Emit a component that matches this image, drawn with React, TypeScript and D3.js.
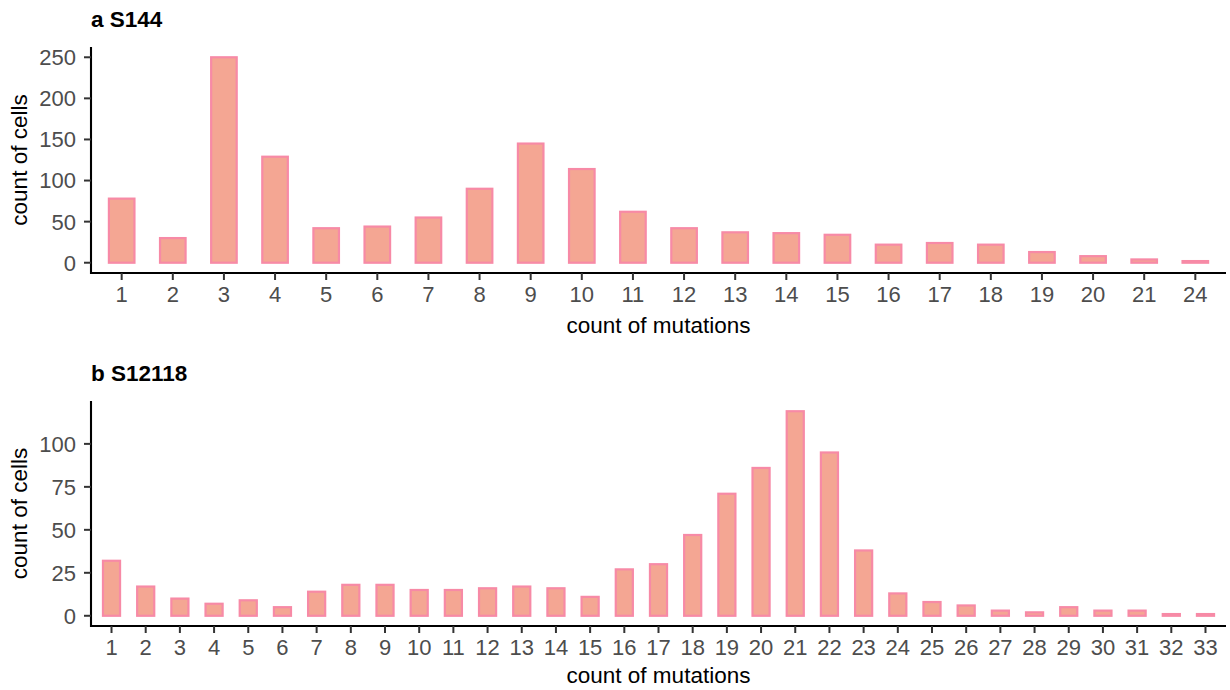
import React from "react";
import * as d3 from "d3";

// Panel a: S144
const catsA: string[] = ["1","2","3","4","5","6","7","8","9","10","11","12","13","14","15","16","17","18","19","20","21","24"];
const valsA: number[] = [78,30,250,129,42,44,55,90,145,114,62,42,37,36,34,22,24,22,13,8,4,2];
const ticksA: number[] = [0,50,100,150,200,250];

// Panel b: S12118
const catsB: string[] = ["1","2","3","4","5","6","7","8","9","10","11","12","13","14","15","16","17","18","19","20","21","22","23","24","25","26","27","28","29","30","31","32","33"];
const valsB: number[] = [32,17,10,7,9,5,14,18,18,15,15,16,17,16,11,27,30,47,71,86,119,95,38,13,8,6,3,2,5,3,3,1,1];
const ticksB: number[] = [0,25,50,75,100];

const titleA = "a S144";
const titleB = "b S12118";
const xTitle = "count of mutations";
const yTitle = "count of cells";

const FILL = "#F4A693";
const STROKE = "#F78AA6";
const FONT = "'Liberation Sans', Arial, Helvetica, sans-serif";

type PanelProps = {
  title: string;
  cats: string[];
  vals: number[];
  ticks: number[];
  top: number;
  bottom: number;
  titleY: number;
  tickLabelY: number;
  xTitleY: number;
};

const LEFT = 91;
const RIGHT = 1226;

function Panel(p: PanelProps) {
  const x = d3.scalePoint<string>().domain(p.cats).range([LEFT, RIGHT]).padding(0.6);
  const step = x.step();
  const maxV = d3.max(p.vals) as number;
  const pad = maxV * 0.05;
  const y = d3.scaleLinear().domain([-pad, maxV + pad]).range([p.bottom, p.top]);
  const bw = step * 0.5;
  const cy = (p.top + p.bottom) / 2;
  return (
    <g>
      <text x={LEFT} y={p.titleY} fontFamily={FONT} fontWeight="bold" fontSize={22.5} fill="#000">{p.title}</text>
      {p.cats.map((c, i) => (
        <rect key={c} x={(x(c) as number) - bw / 2} y={y(p.vals[i])} width={bw}
          height={y(0) - y(p.vals[i])} fill={FILL} stroke={STROKE} strokeWidth={2.2} />
      ))}
      <line x1={LEFT} x2={LEFT} y1={p.top} y2={p.bottom + 1} stroke="#000" strokeWidth={2.1} />
      {p.ticks.map((t) => (
        <g key={t}>
          <line x1={LEFT - 7} x2={LEFT} y1={y(t)} y2={y(t)} stroke="#333" strokeWidth={2} />
          <text x={76} y={y(t)} dy="0.36em" textAnchor="end" fontFamily={FONT} fontSize={22} fill="#4D4D4D">{t}</text>
        </g>
      ))}
      <line x1={LEFT - 1} x2={RIGHT} y1={p.bottom} y2={p.bottom} stroke="#000" strokeWidth={2.1} />
      {p.cats.map((c) => (
        <g key={c}>
          <line x1={x(c)} x2={x(c)} y1={p.bottom} y2={p.bottom + 7} stroke="#333" strokeWidth={2} />
          <text x={x(c)} y={p.tickLabelY} textAnchor="middle" fontFamily={FONT} fontSize={22} fill="#4D4D4D">{c}</text>
        </g>
      ))}
      <text x={(LEFT + RIGHT) / 2} y={p.xTitleY} textAnchor="middle" fontFamily={FONT} fontSize={22.5} fill="#000">{xTitle}</text>
      <text transform={`translate(27,${cy}) rotate(-90)`} textAnchor="middle" fontFamily={FONT} fontSize={22.5} fill="#000">{yTitle}</text>
    </g>
  );
}

export default function App() {
  return (
    <svg width={1230} height={690} style={{ position: "absolute", left: 0, top: 0, background: "#fff" }}>
      <rect width={1230} height={690} fill="#fff" />
      <Panel title={titleA} cats={catsA} vals={valsA} ticks={ticksA} top={47} bottom={273} titleY={27} tickLabelY={302} xTitleY={333} />
      <Panel title={titleB} cats={catsB} vals={valsB} ticks={ticksB} top={401} bottom={626} titleY={381} tickLabelY={655} xTitleY={683} />
    </svg>
  );
}
